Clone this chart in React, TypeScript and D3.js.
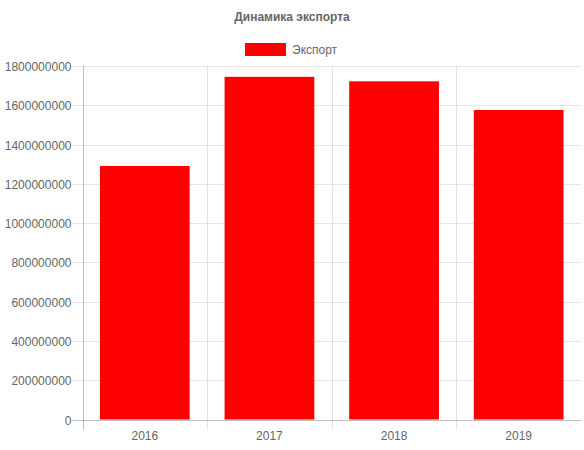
import * as d3 from "d3";

// ── Data ──────────────────────────────────────────────────────────────────────

const YEARS = ["2016", "2017", "2018", "2019"];
const EXPORT = [1291000000, 1745000000, 1722000000, 1576000000];
const Y_TICKS = [0, 200000000, 400000000, 600000000, 800000000, 1000000000,
  1200000000, 1400000000, 1600000000, 1800000000];

const TITLE = "Динамика экспорта";
const SERIES = "Экспорт";

// ── Config ────────────────────────────────────────────────────────────────────

const W = 584;
const H = 450;
const PLOT = { left: 82.5, right: 581, top: 66, bottom: 419.5 };
const FONT = "'Liberation Sans', Arial, Helvetica, sans-serif";
const TEXT = "#666";
const GRID = "rgba(0,0,0,0.1)";
const ZERO = "rgba(0,0,0,0.25)";
const RED = "#ff0000";
const TICK = 10;

// ── Component ─────────────────────────────────────────────────────────────────

const App = () => {
  const x = d3.scaleBand().domain(YEARS).range([PLOT.left, PLOT.right]);
  const y = d3.scaleLinear().domain([0, 1800000000]).range([PLOT.bottom, PLOT.top]);

  const bw = x.bandwidth();
  const barW = bw * 0.72;
  const edges = YEARS.map((c) => x(c) ?? 0);

  return (
    <svg width={W} height={H}
      style={{ position: "absolute", left: 0, top: 0, display: "block", background: "#fff" }}
      fontFamily={FONT}>
      {/* title */}
      <text x={W / 2} y={21} textAnchor="middle" fontSize={12} fontWeight="bold" fill={TEXT}>
        {TITLE}
      </text>

      {/* legend */}
      <rect x={245.5} y={43.5} width={40} height={12} fill={RED} stroke={RED} />
      <text x={292} y={54} fontSize={12} fill={TEXT}>{SERIES}</text>

      {/* horizontal grid + y labels */}
      {Y_TICKS.map((t) => (
        <g key={t}>
          <line x1={PLOT.left - TICK} x2={PLOT.right} y1={Math.round(y(t)) + 0.5} y2={Math.round(y(t)) + 0.5}
            stroke={t === 0 ? ZERO : GRID} />
          <text x={PLOT.left - TICK - 1} y={Math.round(y(t)) + 0.5} dy="0.35em" textAnchor="end"
            fontSize={12} fill={TEXT}>
            {t}
          </text>
        </g>
      ))}

      {/* vertical grid */}
      {edges.map((e, i) => (
        <line key={i} x1={Math.round(e) + 0.5} x2={Math.round(e) + 0.5} y1={PLOT.top} y2={PLOT.bottom + TICK}
          stroke={i === 0 ? ZERO : GRID} />
      ))}

      {/* bars */}
      {YEARS.map((c, i) => (
        <rect key={c} x={(x(c) ?? 0) + (bw - barW) / 2} y={y(EXPORT[i])}
          width={barW} height={y(0) - y(EXPORT[i])} fill={RED} />
      ))}

      {/* x labels */}
      {YEARS.map((c) => (
        <text key={c} x={(x(c) ?? 0) + bw / 2} y={440} textAnchor="middle" fontSize={12} fill={TEXT}>
          {c}
        </text>
      ))}
    </svg>
  );
};

export default App;
